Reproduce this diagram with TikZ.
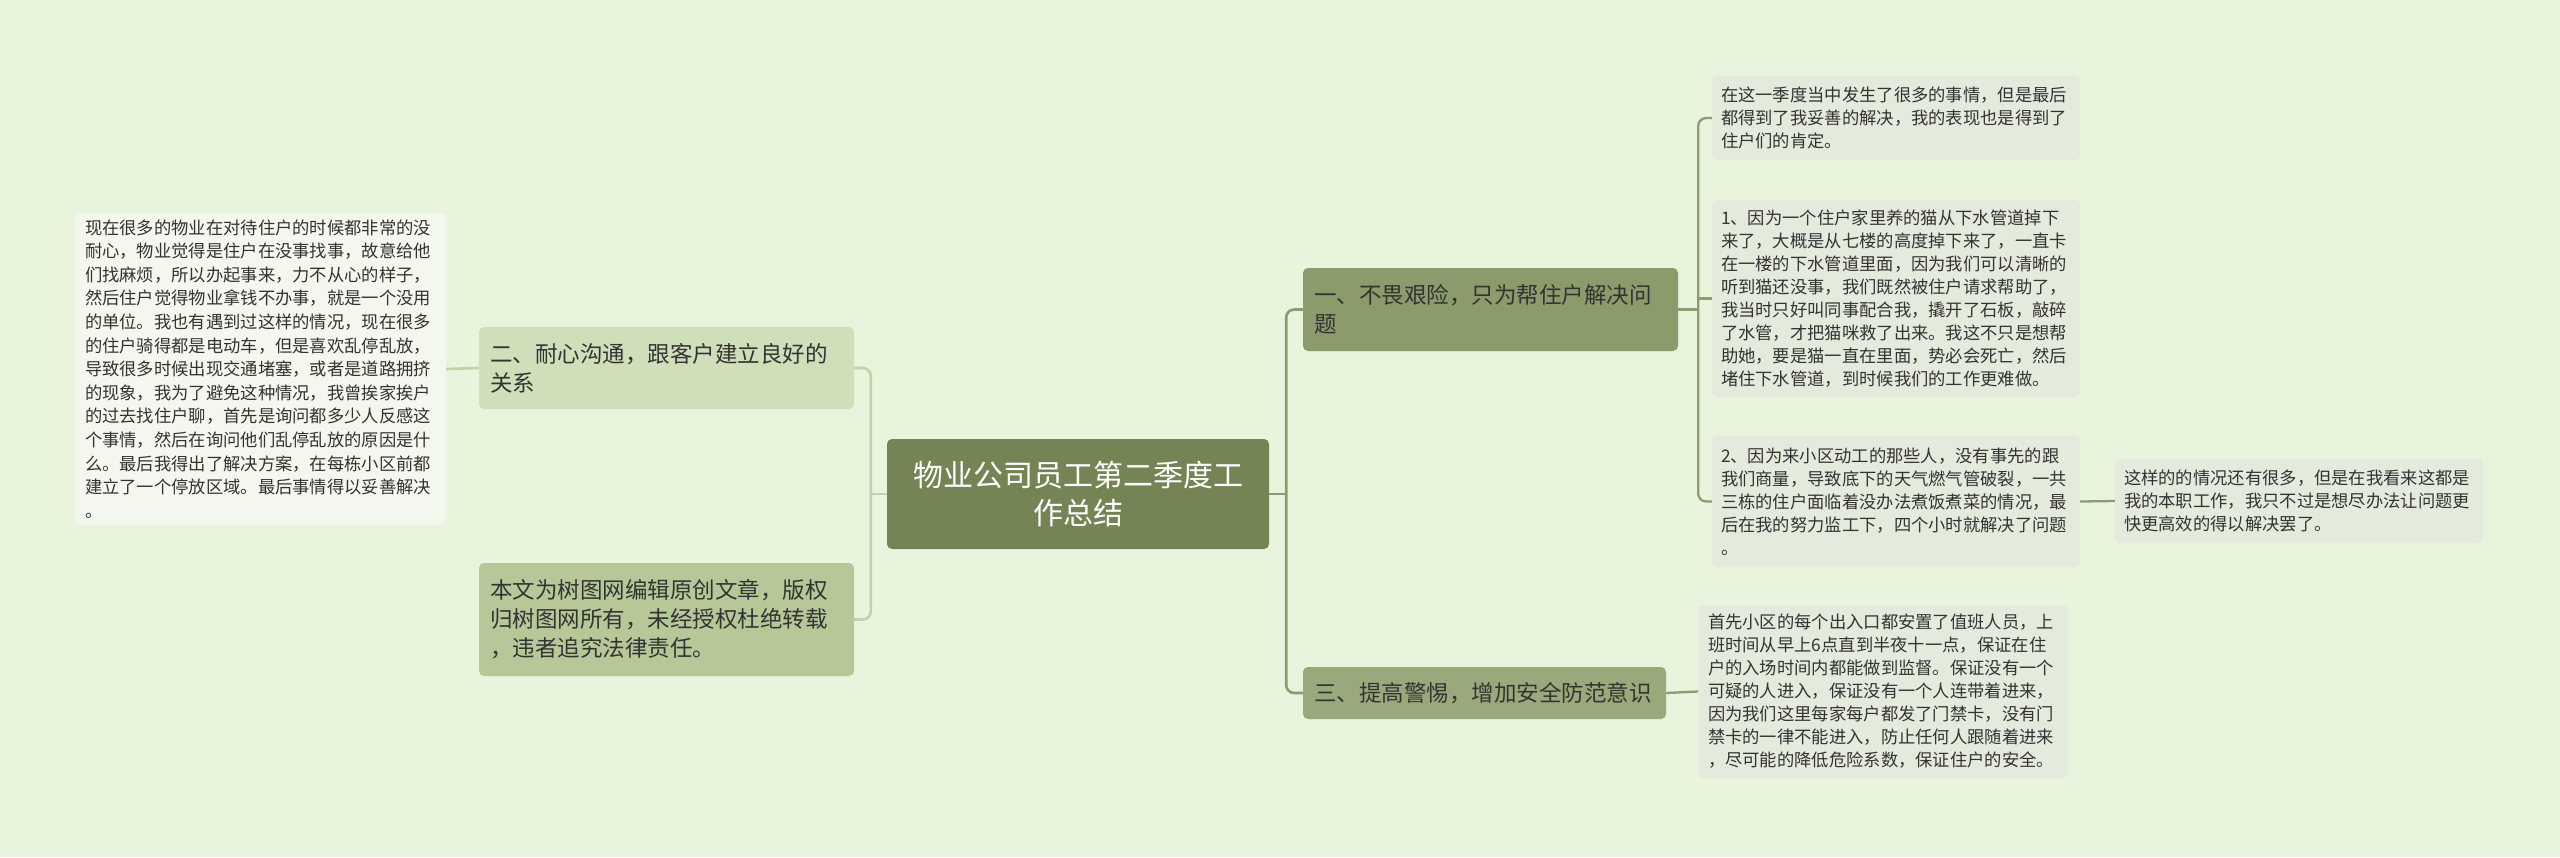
\documentclass[tikz,border=0pt]{standalone}
\usepackage{fontspec}
\setmainfont{Noto Sans CJK SC}
\usetikzlibrary{calc}
\definecolor{bg}{HTML}{E8F4DB}
\definecolor{cfill}{HTML}{748454}
\definecolor{onefill}{HTML}{8C9B6C}
\definecolor{threefill}{HTML}{9AA97B}
\definecolor{twofill}{HTML}{CFDFB9}
\definecolor{copyfill}{HTML}{B6C897}
\definecolor{leaffill}{HTML}{E4EADC}
\definecolor{lleaffill}{HTML}{F3F7EE}
\definecolor{txt}{HTML}{333333}
\definecolor{lconn}{HTML}{C3D3A9}
\definecolor{rconn}{HTML}{8D9C6E}
\hfuzz=20pt
\begin{document}
\begin{tikzpicture}[x=1pt,y=-1pt,
  box/.style={rounded corners=5pt, inner ysep=3pt, align=left, text=txt, anchor=center},
  leafbox/.style={box, fill=leaffill, inner xsep=9pt, text width=350pt, minimum width=368pt,
      font=\fontsize{17.3}{23}\selectfont},
  topicbox/.style={box, inner xsep=11pt, font=\fontsize{22.5}{29}\selectfont},
  lconnline/.style={draw=lconn, line width=2.6pt, rounded corners=8pt},
  rconnline/.style={draw=rconn, line width=2.6pt, rounded corners=8pt}]
\fill[bg] (0,0) rectangle (2560,857);
\useasboundingbox (0,0) rectangle (2560,857);

% central
\node[box, fill=cfill, text=white, align=center, minimum width=382pt, minimum height=110pt,
  font=\fontsize{30}{38}\selectfont] (c) at (1078,494) {物业公司员工第二季度工\\作总结};

% left topics
\node[topicbox, fill=twofill, text width=353pt, minimum height=82pt] (n2) at (666.5,368)
  {二、耐心沟通，跟客户建立良好的\\关系};
\node[topicbox, fill=copyfill, text width=353pt, minimum height=113pt] (ncopy) at (666.5,619.5)
  {本文为树图网编辑原创文章，版权\\归树图网所有，未经授权杜绝转载\\，违者追究法律责任。};

% right topics
\node[topicbox, fill=onefill, text width=353pt, minimum height=83pt] (n1) at (1490.5,309.5)
  {一、不畏艰险，只为帮住户解决问\\题};
\node[topicbox, fill=threefill, text width=341pt, minimum height=52pt] (n3) at (1484.5,693)
  {三、提高警惕，增加安全防范意识};

% left leaf
\node[box, fill=lleaffill, inner xsep=10pt, text width=351pt, minimum height=312pt,
  font=\fontsize{17.3}{23.6}\selectfont] (ll) at (260.5,369)
  {现在很多的物业在对待住户的时候都非常的没\\
耐心，物业觉得是住户在没事找事，故意给他\\
们找麻烦，所以办起事来，力不从心的样子，\\
然后住户觉得物业拿钱不办事，就是一个没用\\
的单位。我也有遇到过这样的情况，现在很多\\
的住户骑得都是电动车，但是喜欢乱停乱放，\\
导致很多时候出现交通堵塞，或者是道路拥挤\\
的现象，我为了避免这种情况，我曾挨家挨户\\
的过去找住户聊，首先是询问都多少人反感这\\
个事情，然后在询问他们乱停乱放的原因是什\\
么。最后我得出了解决方案，在每栋小区前都\\
建立了一个停放区域。最后事情得以妥善解决\\
。};

% right leaves
\node[leafbox, minimum height=84pt] (l1) at (1896,118)
  {在这一季度当中发生了很多的事情，但是最后\\
都得到了我妥善的解决，我的表现也是得到了\\
住户们的肯定。};
\node[leafbox, minimum height=197pt] (l2) at (1896,298.5)
  {1、因为一个住户家里养的猫从下水管道掉下\\
来了，大概是从七楼的高度掉下来了，一直卡\\
在一楼的下水管道里面，因为我们可以清晰的\\
听到猫还没事，我们既然被住户请求帮助了，\\
我当时只好叫同事配合我，撬开了石板，敲碎\\
了水管，才把猫咪救了出来。我这不只是想帮\\
助她，要是猫一直在里面，势必会死亡，然后\\
堵住下水管道，到时候我们的工作更难做。};
\node[leafbox, minimum height=131pt] (l3) at (1896,501.5)
  {2、因为来小区动工的那些人，没有事先的跟\\
我们商量，导致底下的天气燃气管破裂，一共\\
三栋的住户面临着没办法煮饭煮菜的情况，最\\
后在我的努力监工下，四个小时就解决了问题\\
。};
\node[leafbox, minimum height=84pt] (l4) at (2299,501)
  {这样的的情况还有很多，但是在我看来这都是\\
我的本职工作，我只不过是想尽办法让问题更\\
快更高效的得以解决罢了。};
\node[leafbox, inner xsep=10pt, minimum width=370pt, minimum height=173pt] (l5) at (1883,691.5)
  {首先小区的每个出入口都安置了值班人员，上\\
班时间从早上6点直到半夜十一点，保证在住\\
户的入场时间内都能做到监督。保证没有一个\\
可疑的人进入，保证没有一个人连带着进来，\\
因为我们这里每家每户都发了门禁卡，没有门\\
禁卡的一律不能进入，防止任何人跟随着进来\\
，尽可能的降低危险系数，保证住户的安全。};

% connectors
\coordinate (tl) at ($(c.west)+(-16,0)$);
\coordinate (tr) at ($(c.east)+(17,0)$);
\coordinate (t1) at ($(n1.east)+(20,0)$);

\draw[lconnline] (c.west) -- (tl);
\draw[lconnline] (n2.east) -| (tl) |- (ncopy.east);
\draw[lconnline] (ll.east) -- (n2.west);

\draw[rconnline] (c.east) -- (tr);
\draw[rconnline] (n1.west) -| (tr) |- (n3.west);

\draw[rconnline, line width=2.3pt] (n1.east) -- (t1);
\draw[rconnline, line width=2.3pt] (l1.west) -| (t1) |- (l3.west);
\draw[rconnline, line width=2.3pt] (t1 |- l2.west) -- (l2.west);
\draw[rconnline, line width=2.3pt] (l3.east) -- (l4.west);
\draw[rconnline, line width=2.3pt] (n3.east) -- (l5.west);
\end{tikzpicture}
\end{document}
